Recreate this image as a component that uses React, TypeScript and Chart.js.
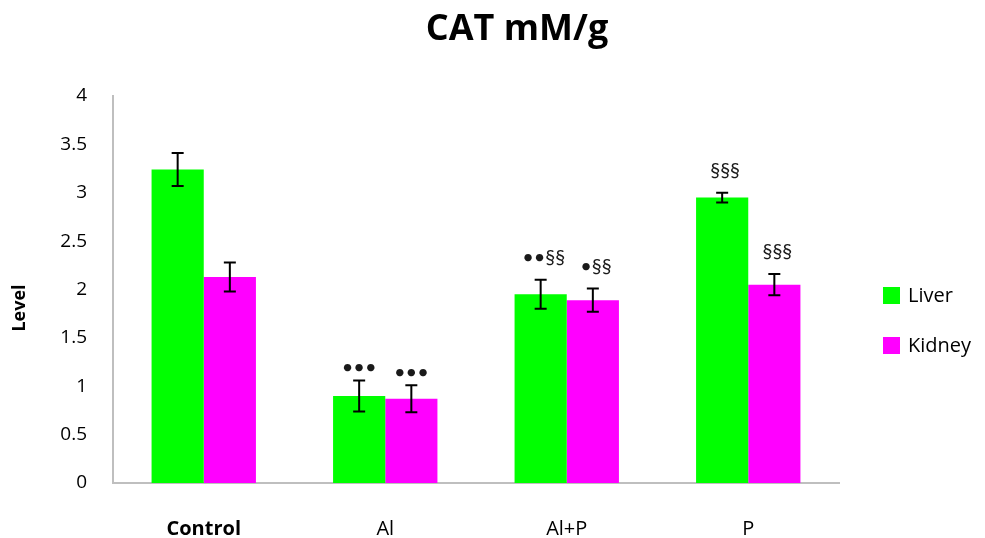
import React, { useEffect, useRef } from "react";
import { Chart, registerables } from "chart.js";

Chart.register(...registerables);

const categories = ["Control", "Al", "Al+P", "P"];
const liverValues = [3.24, 0.9, 1.95, 2.95];
const liverErrors = [0.17, 0.16, 0.15, 0.05];
const kidneyValues = [2.13, 0.87, 1.89, 2.05];
const kidneyErrors = [0.15, 0.14, 0.12, 0.11];
const liverMarks = ["", "•••", "••§§", "§§§"];
const kidneyMarks = ["", "•••", "•§§", "§§§"];
const yTicks = [0, 0.5, 1, 1.5, 2, 2.5, 3, 3.5, 4];

const FONT = "'Open Sans', Lato, sans-serif";
const MARK_FONT = "Lato, 'Open Sans', sans-serif";
const LIVER = "#00ff00";
const KIDNEY = "#ff00ff";

const errorBarPlugin = {
  id: "errorBars",
  afterDatasetsDraw(chart: any) {
    const ctx = chart.ctx;
    const y = chart.scales.y;
    const errs = [liverErrors, kidneyErrors];
    const marks = [liverMarks, kidneyMarks];
    chart.data.datasets.forEach((ds: any, di: number) => {
      const meta = chart.getDatasetMeta(di);
      meta.data.forEach((el: any, i: number) => {
        const v = ds.data[i];
        const e = errs[di][i];
        const top = y.getPixelForValue(v + e);
        const bot = y.getPixelForValue(v - e);
        const x = el.x;
        ctx.save();
        ctx.strokeStyle = "#000";
        ctx.lineWidth = 2;
        ctx.beginPath();
        ctx.moveTo(x, top);
        ctx.lineTo(x, bot);
        ctx.moveTo(x - 6, top);
        ctx.lineTo(x + 6, top);
        ctx.moveTo(x - 6, bot);
        ctx.lineTo(x + 6, bot);
        ctx.stroke();
        const m = marks[di][i];
        if (m) {
          ctx.fillStyle = "#1a1a1a";
          ctx.font = `20px ${MARK_FONT}`;
          ctx.textAlign = "center";
          ctx.textBaseline = "middle";
          const off = m.includes("§") ? 22 : 13;
          ctx.fillText(m, x + (m.includes("§") ? 3 : 0), top - off);
        }
        ctx.restore();
      });
    });
  },
};

const decorPlugin = {
  id: "decor",
  afterDraw(chart: any) {
    const ctx = chart.ctx;
    ctx.save();
    ctx.fillStyle = "#000";
    ctx.font = `bold 36px ${FONT}`;
    ctx.textAlign = "center";
    ctx.textBaseline = "middle";
    ctx.fillText("CAT mM/g", 517, 30);

    ctx.save();
    ctx.translate(20, 308);
    ctx.rotate(-Math.PI / 2);
    ctx.font = `bold 18px ${FONT}`;
    ctx.fillText("Level", 0, 0);
    ctx.restore();

    const items = [
      { label: chart.data.datasets[0].label, color: LIVER, y: 295 },
      { label: chart.data.datasets[1].label, color: KIDNEY, y: 345 },
    ];
    ctx.font = `20px ${FONT}`;
    ctx.textAlign = "left";
    items.forEach((it) => {
      ctx.fillStyle = it.color;
      ctx.fillRect(883, it.y - 8, 17, 17);
      ctx.fillStyle = "#000";
      ctx.fillText(it.label, 908, it.y + 1);
    });
    ctx.restore();
  },
};

export default function App() {
  const ref = useRef<HTMLCanvasElement | null>(null);
  useEffect(() => {
    if (!ref.current) return;
    const chart = new Chart(ref.current, {
      type: "bar",
      data: {
        labels: categories,
        datasets: [
          { label: "Liver", data: liverValues, backgroundColor: LIVER, categoryPercentage: 0.575, barPercentage: 1 },
          { label: "Kidney", data: kidneyValues, backgroundColor: KIDNEY, categoryPercentage: 0.575, barPercentage: 1 },
        ],
      },
      options: {
        animation: false,
        responsive: false,
        maintainAspectRatio: false,
        layout: { padding: { top: 96, right: 146, left: 0, bottom: 0 } },
        plugins: { legend: { display: false }, title: { display: false }, tooltip: { enabled: false } },
        scales: {
          x: {
            grid: { display: false, drawTicks: false },
            border: { display: true, color: "#bfbfbf", width: 2 },
            ticks: {
              padding: 34,
              color: "#000",
              font: (c: any) => ({ family: FONT, size: 20, weight: c.index === 0 ? "bold" : "normal" }),
            },
            afterFit: (s: any) => { s.height = 55; },
          },
          y: {
            min: 0,
            max: 4,
            afterBuildTicks: (s: any) => { s.ticks = yTicks.map((v) => ({ value: v })); },
            grid: { display: false, drawTicks: false },
            border: { display: true, color: "#bfbfbf", width: 2 },
            ticks: {
              padding: 26,
              color: "#000",
              font: { family: FONT, size: 19 },
              callback: (v: any) => String(v),
            },
            afterFit: (s: any) => { s.width = 113; },
          },
        },
      },
      plugins: [errorBarPlugin, decorPlugin],
    });
    return () => chart.destroy();
  }, []);
  return (
    <div style={{ position: "fixed", left: 0, top: 0, width: 985, height: 538, background: "#fff" }}>
      <canvas ref={ref} width={985} height={538} style={{ width: 985, height: 538 }} />
    </div>
  );
}
